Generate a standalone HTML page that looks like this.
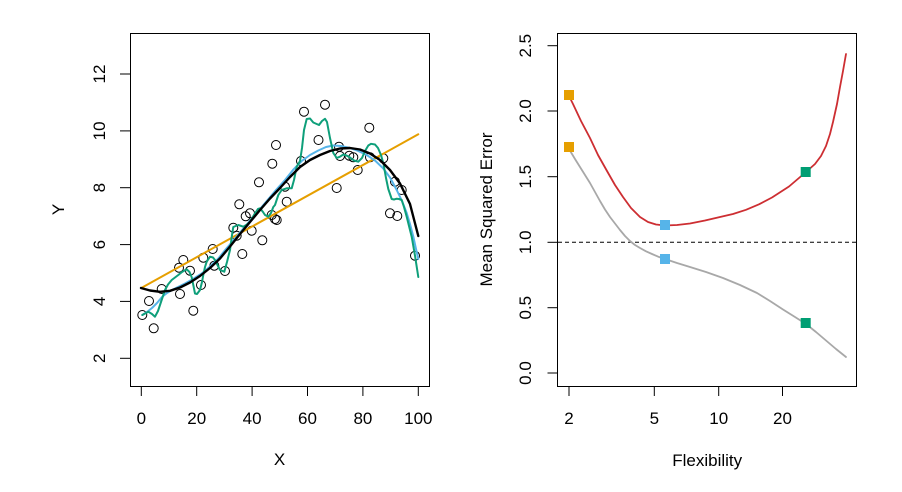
<!DOCTYPE html>
<html><head><meta charset="utf-8"><style>
html,body{margin:0;padding:0;background:#fff;}
svg{display:block;}
text{font-family:"Liberation Sans",Arial,sans-serif;font-size:17px;fill:#000;}
</style></head><body>
<svg width="902" height="492" viewBox="0 0 902 492" xmlns="http://www.w3.org/2000/svg">
<rect width="902" height="492" fill="#fff"/>
<rect x="130.5" y="33.5" width="299" height="353" fill="none" stroke="#000" stroke-width="1"/>
<g stroke="#000" stroke-width="1">
<line x1="141.3" y1="386" x2="141.3" y2="396"/>
<line x1="196.7" y1="386" x2="196.7" y2="396"/>
<line x1="252.1" y1="386" x2="252.1" y2="396"/>
<line x1="307.5" y1="386" x2="307.5" y2="396"/>
<line x1="362.9" y1="386" x2="362.9" y2="396"/>
<line x1="418.3" y1="386" x2="418.3" y2="396"/>
<line x1="120" y1="358.3" x2="130" y2="358.3"/>
<line x1="120" y1="301.4" x2="130" y2="301.4"/>
<line x1="120" y1="244.6" x2="130" y2="244.6"/>
<line x1="120" y1="187.7" x2="130" y2="187.7"/>
<line x1="120" y1="130.9" x2="130" y2="130.9"/>
<line x1="120" y1="74" x2="130" y2="74"/>
</g>
<g text-anchor="middle">
<text x="141.3" y="424">0</text>
<text x="196.7" y="424">20</text>
<text x="252.1" y="424">40</text>
<text x="307.5" y="424">60</text>
<text x="362.9" y="424">80</text>
<text x="418.3" y="424">100</text>
<text transform="translate(105,358.3) rotate(-90)">2</text>
<text transform="translate(105,301.4) rotate(-90)">4</text>
<text transform="translate(105,244.6) rotate(-90)">6</text>
<text transform="translate(105,187.7) rotate(-90)">8</text>
<text transform="translate(105,130.9) rotate(-90)">10</text>
<text transform="translate(105,74) rotate(-90)">12</text>
<text x="279.5" y="465">X</text>
<text transform="translate(64,209.5) rotate(-90)">Y</text>
</g>
<g fill="none" stroke="#000" stroke-width="1">
<circle cx="142.3" cy="315" r="4.5"/>
<circle cx="149" cy="301" r="4.5"/>
<circle cx="153.7" cy="328.3" r="4.5"/>
<circle cx="161.7" cy="289" r="4.5"/>
<circle cx="180" cy="294" r="4.5"/>
<circle cx="183.3" cy="260" r="4.5"/>
<circle cx="179" cy="267.7" r="4.5"/>
<circle cx="190" cy="270.7" r="4.5"/>
<circle cx="193.3" cy="310.7" r="4.5"/>
<circle cx="201" cy="285" r="4.5"/>
<circle cx="203.3" cy="257.7" r="4.5"/>
<circle cx="212.7" cy="249" r="4.5"/>
<circle cx="214.3" cy="265.7" r="4.5"/>
<circle cx="225" cy="271" r="4.5"/>
<circle cx="233.3" cy="227.7" r="4.5"/>
<circle cx="236.7" cy="235.7" r="4.5"/>
<circle cx="242.3" cy="254" r="4.5"/>
<circle cx="239.3" cy="204.3" r="4.5"/>
<circle cx="245.7" cy="216.3" r="4.5"/>
<circle cx="250" cy="213.3" r="4.5"/>
<circle cx="251.7" cy="230.7" r="4.5"/>
<circle cx="262.3" cy="240.3" r="4.5"/>
<circle cx="271.7" cy="215" r="4.5"/>
<circle cx="275" cy="219" r="4.5"/>
<circle cx="276.7" cy="220" r="4.5"/>
<circle cx="276" cy="145" r="4.5"/>
<circle cx="272.3" cy="163.7" r="4.5"/>
<circle cx="259" cy="182.3" r="4.5"/>
<circle cx="285" cy="186.7" r="4.5"/>
<circle cx="286.7" cy="201.7" r="4.5"/>
<circle cx="301" cy="161" r="4.5"/>
<circle cx="304" cy="111.7" r="4.5"/>
<circle cx="325" cy="104.7" r="4.5"/>
<circle cx="318.5" cy="140" r="4.5"/>
<circle cx="339" cy="146.7" r="4.5"/>
<circle cx="340" cy="156" r="4.5"/>
<circle cx="349.3" cy="155.7" r="4.5"/>
<circle cx="353.3" cy="157.3" r="4.5"/>
<circle cx="357.7" cy="170" r="4.5"/>
<circle cx="336.7" cy="188" r="4.5"/>
<circle cx="369.3" cy="127.7" r="4.5"/>
<circle cx="370" cy="157.3" r="4.5"/>
<circle cx="383.3" cy="158.3" r="4.5"/>
<circle cx="395" cy="181.7" r="4.5"/>
<circle cx="401.7" cy="190" r="4.5"/>
<circle cx="390" cy="213.3" r="4.5"/>
<circle cx="397.3" cy="216" r="4.5"/>
<circle cx="415" cy="255.7" r="4.5"/>
</g>
<g fill="none" stroke-linejoin="round" stroke-linecap="round">
<line x1="141.7" y1="287.7" x2="418.3" y2="134.3" stroke="#E69F00" stroke-width="2"/>
<polyline stroke="#56B4E9" stroke-width="2" points="142.3,315 147,312 152,308 157,303 162,297 167,293 172,290 178,287 185,283.5 193,279 201.7,273.5 210,266.5 218.3,258.5 226,249 235,238.5 243,229 251,219.5 260,209 268,199.5 276,190 285,180 293,170 301.7,161 310,155 318.3,150.5 326,147 333.3,145.5 341,146 350,148 358,150.8 366.7,155 375,160.5 383.3,168.5 390,177.5 396.7,190 402,201 406.7,213 410,224 413.3,236.5 416,249 418.3,259"/>
<polyline stroke="#0E9F7A" stroke-width="2" points="142.3,315 148.3,311.7 152,314 155,316.7 158,311 160,305 163,296 165,290 168,284.5 171.7,280 175,277.5 178.3,275 182,272 186.7,269.3 189.5,272 191.7,277.3 193.5,286 195,293.5 197,294 200,290 202,282 203.3,275 205,267 206.7,261.7 210,256.7 213,257.5 215,260 218,266 220,270 224.3,271.7 227,262 230,250 232,235 233.3,227 238.3,225 243.3,226.7 247,224.5 250,221.7 255,213.3 258,209 260,208.3 263,212 265,215 268.3,216.7 271,213 273.3,207 275,205 278.3,195 281.7,190 286.7,188.3 291.7,188.3 294,180 296.7,166.7 300,161 302,148 304,130 306.7,119 310,118.5 313.3,122.5 316.7,124 319,125 322,121 325,118.8 327,122 328.3,129 330,138 333.3,153 336.7,158 340,156.7 343.3,154.5 346.5,155.5 350,157.5 354,160.5 358.3,161.7 362,158 365,151 368.3,145.5 371,143.8 375,144.5 378,148 381,155 383.5,164 386,178 388.3,189 391.7,199 394,199.5 396.7,198.7 399,199 401.7,200 404,207 406.7,216.7 409,226 411.7,236.7 415,255.7 418.3,277"/>
<polyline stroke="#000" stroke-width="2.4" points="141,288 150,290.5 160,291.8 170,290.8 180,287.5 190,282.5 200,276 210,268 220,258.5 230,246.5 240,234 250,222 260,210 270,198.5 280,188 290,177 300,167 310,160 320,155 330,151 340,148.5 350,148 360,149.5 370,153.5 380,160 390,170 400,183.5 410,204 418.3,236"/>
</g>
<rect x="557.5" y="33.5" width="299" height="353" fill="none" stroke="#000" stroke-width="1"/>
<g stroke="#000" stroke-width="1">
<line x1="569" y1="386" x2="569" y2="396"/>
<line x1="654.3" y1="386" x2="654.3" y2="396"/>
<line x1="718.7" y1="386" x2="718.7" y2="396"/>
<line x1="782.5" y1="386" x2="782.5" y2="396"/>
<line x1="547.5" y1="373" x2="557.5" y2="373"/>
<line x1="547.5" y1="307.7" x2="557.5" y2="307.7"/>
<line x1="547.5" y1="242.3" x2="557.5" y2="242.3"/>
<line x1="547.5" y1="176.7" x2="557.5" y2="176.7"/>
<line x1="547.5" y1="111" x2="557.5" y2="111"/>
<line x1="547.5" y1="45.7" x2="557.5" y2="45.7"/>
</g>
<g text-anchor="middle">
<text x="569" y="424">2</text>
<text x="654.3" y="424">5</text>
<text x="718.7" y="424">10</text>
<text x="782.5" y="424">20</text>
<text transform="translate(531,373) rotate(-90)">0.0</text>
<text transform="translate(531,307.7) rotate(-90)">0.5</text>
<text transform="translate(531,242.3) rotate(-90)">1.0</text>
<text transform="translate(531,176.7) rotate(-90)">1.5</text>
<text transform="translate(531,111) rotate(-90)">2.0</text>
<text transform="translate(531,45.7) rotate(-90)">2.5</text>
<text x="707.2" y="466">Flexibility</text>
<text transform="translate(492,209.5) rotate(-90)">Mean Squared Error</text>
</g>
<line x1="558" y1="242.3" x2="856" y2="242.3" stroke="#000" stroke-width="1" stroke-dasharray="4,3"/>
<g fill="none" stroke-linejoin="round" stroke-linecap="round" stroke-width="1.8">
<polyline stroke="#A8A8A8" points="569,149 575,159 580,167 585,175 590,183 595,192 600,201 605,209.5 610,217 615,223.5 620,230 625,236 630,241 635,245 640,248 646,251.3 652,254 658,256.6 665,259 677,263 690,267 706,272 723,278 740,285 757,293 770,301 783,309.5 795,317 806,324 816,332 826,340.5 836,349 846,357"/>
<polyline stroke="#CD2E32" points="569,96 573,104 581,121 590,138 598,155 607,171 615,185 623,197 631,208 640,217 648,222 656,224.5 665,225.5 677,225 690,223.5 705,220.5 720,217 733,214 746,209.8 759,204.3 772,197.5 789,186.5 806,172 815,164 821,156 826,146 830,134 833,122 837,104 840,87 843,71 846,54"/>
</g>
<g stroke="none">
<rect x="564" y="90" width="10" height="10" fill="#E69F00"/>
<rect x="564" y="142" width="10" height="10" fill="#E69F00"/>
<rect x="660" y="220" width="10" height="10" fill="#56B4E9"/>
<rect x="660" y="254" width="10" height="10" fill="#56B4E9"/>
<rect x="800.7" y="167" width="10" height="10" fill="#009E73"/>
<rect x="800.7" y="318" width="10" height="10" fill="#009E73"/>
</g>
</svg>
</body></html>
